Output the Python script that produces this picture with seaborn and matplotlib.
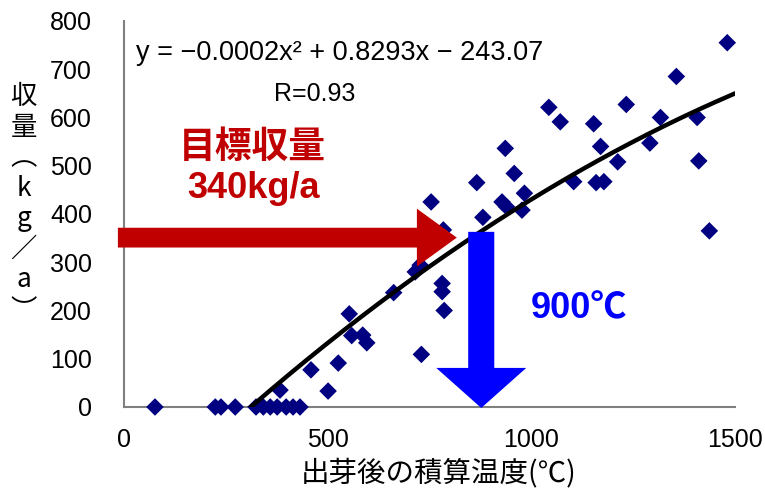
import numpy as np
import pandas as pd
import matplotlib
matplotlib.use("Agg")
import matplotlib.pyplot as plt
from matplotlib.patches import FancyArrow
import seaborn as sns

# Accumulated temperature after emergence (°C) and yield (kg/a)
heat_sum = [76, 224, 238, 273, 324, 342, 359, 376, 398, 415, 432,
            383, 459, 501, 526, 553, 559, 586, 596, 662, 715, 727, 730,
            754, 784, 781, 781, 786, 866, 881, 928, 936, 939, 958, 977,
            983, 1043, 1071, 1104, 1153, 1159, 1170, 1178, 1212, 1233,
            1291, 1317, 1356, 1407, 1411, 1437, 1481]
yield_kg = [0, 0, 0, 0, 0, 0, 0, 0, 0, 0, 0,
            35, 77, 33, 91, 193, 148, 149, 133, 237, 280, 294, 109,
            425, 367, 256, 239, 200, 465, 393, 425, 536, 415, 484, 408,
            443, 621, 591, 467, 587, 465, 540, 467, 508, 627,
            547, 600, 685, 600, 510, 365, 755]

# Quadratic trend line coefficients (label shows them rounded)
coef_a = -0.000156
coef_b = 0.8293
coef_c = -243.07
r_value = 0.93

x_ticks = [0, 500, 1000, 1500]
y_ticks = [0, 100, 200, 300, 400, 500, 600, 700, 800]

target_label = "目標収量"
target_text = "340kg/a"
temp_text = "900℃"

sns.set_style("white")
plt.rcParams["font.family"] = ["Liberation Sans", "Noto Sans CJK JP"]
plt.rcParams["text.color"] = "black"

fig = plt.figure(figsize=(7.65, 4.88), dpi=100)
ax = fig.add_axes([0.1621, 0.166, 0.7987, 0.791])

df = pd.DataFrame({"heat": heat_sum, "yield": yield_kg})
sns.scatterplot(data=df, x="heat", y="yield", marker="D", s=80,
                color="#000080", edgecolor="none", ax=ax, clip_on=False,
                zorder=3)

curve_x = np.linspace(0, 1500, 400)
curve_y = coef_a * curve_x ** 2 + coef_b * curve_x + coef_c
sns.lineplot(x=curve_x, y=curve_y, color="black", linewidth=3.2, ax=ax,
             zorder=4)

ax.set_xlim(0, 1500)
ax.set_ylim(0, 800)
ax.set_xticks(x_ticks)
ax.set_yticks(y_ticks)
ax.set_xlabel("")
ax.set_ylabel("")
for side in ["top", "right"]:
    ax.spines[side].set_visible(False)
for side in ["left", "bottom"]:
    ax.spines[side].set_color("#808080")
    ax.spines[side].set_linewidth(1.5)
ax.tick_params(axis="y", direction="in", length=4.5, width=1.2,
               color="#606060", labelsize=18, pad=23, labelcolor="black")
ax.tick_params(axis="x", direction="in", length=5.5, width=1.2,
               color="#606060", labelsize=18, pad=15, labelcolor="black")

# Trend line equation
eq = (f"y = \u2212{abs(coef_a):.4f}x\u00b2 + {coef_b:.4f}x "
      f"\u2212 {abs(coef_c):.2f}")
ax.text(0.02, 0.918, eq, transform=ax.transAxes, fontsize=19.5,
        ha="left", va="center", color="black")
ax.text(0.245, 0.81, f"R={r_value:.2f}", transform=ax.transAxes,
        fontsize=18, ha="left", va="center", color="black")

# Target yield arrow
ax.add_patch(FancyArrow(-15, 351, 832, 0, width=41, head_width=120,
                        head_length=98, length_includes_head=True,
                        color="#C00000", clip_on=False, zorder=5,
                        linewidth=0))
ax.text(0.090, 0.672, target_label, transform=ax.transAxes, fontsize=26.5,
        fontweight="bold", color="#C00000", ha="left", va="center",
        family=["Noto Sans CJK JP"])
ax.text(0.103, 0.566, target_text, transform=ax.transAxes, fontsize=26,
        fontweight="bold", color="#C00000", ha="left", va="center")

# Required temperature arrow
ax.add_patch(FancyArrow(877, 363, 0, -365, width=64, head_width=221,
                        head_length=83, length_includes_head=True,
                        color="#0000FF", clip_on=False, zorder=5,
                        linewidth=0))
ax.text(0.665, 0.255, temp_text, transform=ax.transAxes, fontsize=26,
        fontweight="bold", color="#0000FF", ha="left", va="center",
        family=["Liberation Sans", "Noto Sans CJK JP"])

# Axis titles
fig.text(0.574, 0.0, "出芽後の積算温度(℃)", fontsize=20.5, ha="center",
         va="bottom", family=["Noto Sans CJK JP"])
fig.text(0.031, 0.583, "収\n量\n︵\nk\ng\n／\na\n︶", fontsize=19,
         ha="center", va="center", multialignment="center",
         linespacing=1.17, family=["Noto Sans CJK JP"])

fig.savefig("out.png", dpi=100)
